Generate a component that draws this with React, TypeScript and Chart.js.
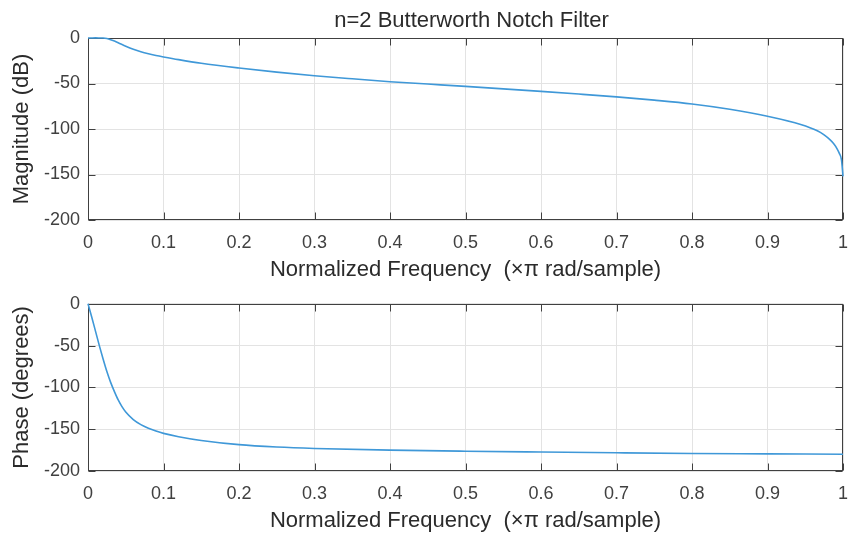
import React, { useEffect, useRef } from "react";
import { Chart, registerables } from "chart.js";

Chart.register(...registerables);

const chartTitle = "n=2 Butterworth Notch Filter";
const xAxisTitle = "Normalized Frequency  (\u00d7\u03c0 rad/sample)";
const magAxisTitle = "Magnitude (dB)";
const phaseAxisTitle = "Phase (degrees)";

const xTicks = [0, 0.1, 0.2, 0.3, 0.4, 0.5, 0.6, 0.7, 0.8, 0.9, 1];
const yTicks = [0, -50, -100, -150, -200];

const magFreq = [0, 0.01, 0.02, 0.025, 0.03, 0.035, 0.04, 0.05, 0.06, 0.07, 0.08, 0.09, 0.1, 0.12, 0.15, 0.2, 0.25, 0.3, 0.35, 0.4, 0.45, 0.5, 0.55, 0.6, 0.65, 0.7, 0.75, 0.8, 0.85, 0.9, 0.944, 0.966, 0.975, 0.983, 0.988, 0.992, 0.995, 0.998, 1];
const magDb = [0, 0.2, 0, -0.6, -1.8, -3.4, -5.2, -9, -12.4, -15.2, -17.4, -19.2, -20.8, -23.8, -27.8, -33, -37.5, -41.4, -44.8, -48, -50.6, -53.2, -55.9, -58.7, -61.6, -64.7, -68.3, -72.5, -78.3, -86, -95, -102, -106.5, -112, -116.5, -121.5, -126.5, -134, -152];

const phaseFreq = [0, 0.005, 0.01, 0.015, 0.02, 0.025, 0.03, 0.035, 0.04, 0.045, 0.05, 0.06, 0.07, 0.08, 0.09, 0.1, 0.12, 0.15, 0.2, 0.25, 0.3, 0.4, 0.5, 0.6, 0.7, 0.8, 0.9, 1];
const phaseDeg = [0, -16, -33, -50, -66, -81, -94, -105, -115, -123, -129.5, -138.5, -144.5, -148.8, -152.2, -155, -159, -163.5, -168.5, -171.3, -173, -175, -176.3, -177.3, -178.2, -179, -179.5, -180];

const FONT = "'Liberation Sans', Arial, Helvetica, sans-serif";
const LINE = "#3f98d8";
const AXIS = "#404040";
const GRID = "#e3e3e3";
const TICKTXT = "#404040";
const LABELTXT = "#2b2b2b";

const boxPlugin = {
  id: "matlabBox",
  beforeDatasetsDraw(chart: any) {
    const { ctx, chartArea: a, scales } = chart;
    ctx.save();
    ctx.strokeStyle = AXIS;
    ctx.lineWidth = 1;
    const L = Math.round(a.left) + 0.5, R = Math.round(a.right) - 0.5;
    const T = Math.round(a.top) + 0.5, B = Math.round(a.bottom) - 0.5;
    ctx.strokeRect(L, T, R - L, B - T);
    const tl = 7;
    ctx.beginPath();
    for (const v of xTicks) {
      const px = Math.round(scales.x.getPixelForValue(v)) + 0.5;
      ctx.moveTo(px, B); ctx.lineTo(px, B - tl);
      ctx.moveTo(px, T); ctx.lineTo(px, T + tl);
    }
    for (const v of yTicks) {
      const py = Math.round(scales.y.getPixelForValue(v)) + 0.5;
      ctx.moveTo(L, py); ctx.lineTo(L + tl, py);
      ctx.moveTo(R, py); ctx.lineTo(R - tl, py);
    }
    ctx.stroke();
    ctx.restore();
  },
};

const titlePlugin = {
  id: "figTitle",
  afterDraw(chart: any) {
    const text = chart.options.plugins.figTitle?.text;
    if (!text) return;
    const { ctx, chartArea: a } = chart;
    ctx.save();
    ctx.font = `normal 22px ${FONT}`;
    ctx.fillStyle = LABELTXT;
    ctx.textAlign = "center";
    ctx.textBaseline = "middle";
    ctx.fillText(text, (a.left + a.right) / 2 + 6, 21);
    ctx.restore();
  },
};

function makeConfig(freq: number[], vals: number[], yTitle: string, opts: any) {
  return {
    type: "line",
    data: {
      datasets: [
        {
          data: freq.map((f, i) => ({ x: f, y: vals[i] })),
          borderColor: LINE,
          borderWidth: 1.6,
          pointRadius: 0,
          cubicInterpolationMode: "monotone",
          fill: false,
          clip: 3,
        },
      ],
    },
    options: {
      responsive: false,
      animation: false,
      layout: { padding: { left: 0, right: 13, top: opts.padTop, bottom: 0 } },
      plugins: {
        legend: { display: false },
        tooltip: { enabled: false },
        title: { display: false },
        figTitle: { text: opts.title ? chartTitle : "" },
      },
      scales: {
        x: {
          type: "linear",
          min: 0,
          max: 1,
          afterBuildTicks: (s: any) => { s.ticks = xTicks.map((v) => ({ value: v })); },
          afterFit: (s: any) => { s.height = opts.xHeight; s.paddingLeft = 0; s.paddingRight = 0; },
          ticks: {
            color: TICKTXT,
            font: { family: FONT, size: 18 },
            padding: 12,
            maxRotation: 0,
            autoSkip: false,
            callback: (v: number) => String(parseFloat(Number(v).toFixed(1))),
          },
          grid: { color: GRID, drawTicks: false },
          border: { display: false },
          title: {
            display: true,
            text: xAxisTitle,
            color: LABELTXT,
            font: { family: FONT, size: 22, lineHeight: 1 },
            padding: { top: 0, bottom: opts.xTitlePad },
          },
        },
        y: {
          type: "linear",
          min: -200,
          max: 0,
          afterBuildTicks: (s: any) => { s.ticks = yTicks.map((v) => ({ value: v })); },
          afterFit: (s: any) => { s.width = 88; },
          ticks: {
            color: TICKTXT,
            font: { family: FONT, size: 18 },
            padding: 8,
            autoSkip: false,
          },
          grid: { color: GRID, drawTicks: false },
          border: { display: false },
          title: {
            display: true,
            text: yTitle,
            color: LABELTXT,
            font: { family: FONT, size: 22, lineHeight: 1 },
            padding: { top: 11, bottom: 0 },
          },
        },
      },
    },
    plugins: [boxPlugin, titlePlugin],
  };
}

function Plot(props: { width: number; height: number; config: any }) {
  const ref = useRef<HTMLCanvasElement | null>(null);
  useEffect(() => {
    if (!ref.current) return;
    const c = new Chart(ref.current, props.config);
    return () => c.destroy();
  }, []);
  return <canvas ref={ref} width={props.width} height={props.height} style={{ display: "block" }} />;
}

export default function App() {
  const topCfg = makeConfig(magFreq, magDb, magAxisTitle, { title: true, padTop: 38, xHeight: 65, xTitlePad: 4 });
  const botCfg = makeConfig(phaseFreq, phaseDeg, phaseAxisTitle, { title: false, padTop: 7, xHeight: 62, xTitlePad: 1 });
  return (
    <div style={{ position: "absolute", left: 0, top: 0, width: 856, height: 533, background: "#fff", overflow: "hidden" }}>
      <Plot width={856} height={285} config={topCfg} />
      <Plot width={856} height={248} config={botCfg} />
    </div>
  );
}
